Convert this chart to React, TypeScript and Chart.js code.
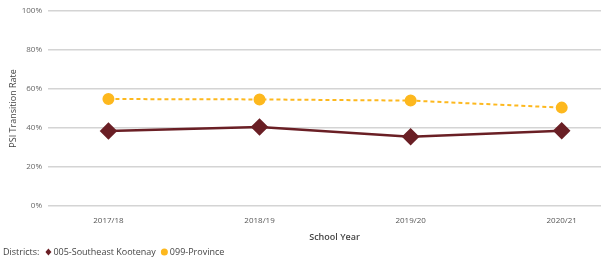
import React, { useEffect, useRef } from "react";
import { Chart, registerables } from "chart.js";

Chart.register(...registerables);

const categories = ["2017/18", "2018/19", "2019/20", "2020/21"];
const kootenay = [38.4, 40.5, 35.5, 38.6];
const province = [54.8, 54.6, 54.0, 50.4];
const yTicks = [0, 20, 40, 60, 80, 100];
const seriesLabels = ["005-Southeast Kootenay", "099-Province"];
const legendTitle = "Districts:";
const xTitle = "School Year";
const yTitle = "PSI Transition Rate";

const MAROON = "#6a1f25";
const GOLD = "#fdb81e";
const FONT = "'Open Sans', 'Noto Sans', sans-serif";

const legendPlugin = {
  id: "customLegend",
  afterDraw(chart: any) {
    const ctx = chart.ctx;
    ctx.save();
    // x-axis title, slightly right of the plot centre as in the original
    ctx.font = `600 9px ${FONT}`;
    ctx.fillStyle = "#444";
    ctx.textAlign = "center";
    ctx.textBaseline = "middle";
    ctx.fillText(xTitle, chart.chartArea.left + (chart.chartArea.right - chart.chartArea.left) / 2 + 10, 237);

    ctx.textAlign = "left";
    ctx.font = `9px ${FONT}`;
    const y = 252;
    let x = 3;
    ctx.fillText(legendTitle, x, y);
    x += ctx.measureText(legendTitle).width + 6;
    chart.data.datasets.forEach((ds: any) => {
      ctx.fillStyle = ds.pointBackgroundColor;
      if (ds.pointStyle === "rectRot") {
        ctx.beginPath();
        ctx.moveTo(x + 3, y - 3.5);
        ctx.lineTo(x + 6, y);
        ctx.lineTo(x + 3, y + 3.5);
        ctx.lineTo(x, y);
        ctx.closePath();
        ctx.fill();
        x += 8;
      } else {
        ctx.beginPath();
        ctx.arc(x + 3.5, y, 3.5, 0, Math.PI * 2);
        ctx.fill();
        x += 9;
      }
      ctx.fillStyle = "#444";
      ctx.fillText(ds.label, x, y);
      x += ctx.measureText(ds.label).width + 5;
    });
    ctx.restore();
  },
};

export default function App() {
  const ref = useRef<HTMLCanvasElement | null>(null);
  useEffect(() => {
    document.body.style.margin = "0";
    const canvas = ref.current!;
    const chart = new Chart(canvas, {
      type: "line",
      data: {
        datasets: [
          {
            label: seriesLabels[0],
            data: kootenay.map((v, i) => ({ x: i, y: v })),
            borderColor: MAROON,
            backgroundColor: MAROON,
            pointBackgroundColor: MAROON,
            pointBorderColor: MAROON,
            pointStyle: "rectRot",
            pointRadius: 7,
            borderWidth: 2.5,
            tension: 0,
            clip: false,
          },
          {
            label: seriesLabels[1],
            data: province.map((v, i) => ({ x: i, y: v })),
            borderColor: GOLD,
            backgroundColor: GOLD,
            pointBackgroundColor: GOLD,
            pointBorderColor: GOLD,
            pointStyle: "circle",
            pointRadius: 5,
            borderWidth: 2,
            borderDash: [4, 3],
            tension: 0,
            clip: false,
          },
        ],
      },
      options: {
        animation: false,
        responsive: false,
        maintainAspectRatio: false,
        layout: { autoPadding: false, padding: { top: 10, right: 0, bottom: 16, left: 0 } },
        plugins: { legend: { display: false }, tooltip: { enabled: false } },
        scales: {
          x: {
            type: "linear",
            min: -0.4,
            max: 3.26,
            afterBuildTicks: (axis: any) => {
              axis.ticks = categories.map((_, i) => ({ value: i }));
            },
            afterFit: (axis: any) => {
              axis.height = 38;
              axis.paddingLeft = 0;
              axis.paddingRight = 0;
            },
            grid: { display: false, drawTicks: false },
            border: { display: false },
            ticks: {
              callback: (v: any) => categories[v] ?? "",
              font: { family: FONT, size: 8 },
              color: "#555",
              padding: 10,
              maxRotation: 0,
            },
            title: { display: false },
          },
          y: {
            min: 0,
            max: 100,
            afterBuildTicks: (axis: any) => {
              axis.ticks = yTicks.map((v) => ({ value: v }));
            },
            afterFit: (axis: any) => {
              axis.width = 48;
            },
            grid: { color: "#d4d4d4", lineWidth: 1.5, drawTicks: false },
            border: { display: false },
            ticks: {
              callback: (v: any) => `${v}%`,
              font: { family: FONT, size: 8 },
              color: "#666",
              padding: 6,
            },
            title: {
              display: true,
              text: yTitle,
              font: { family: FONT, size: 9 },
              color: "#444",
              padding: { top: 8, bottom: 0 },
            },
          },
        },
      },
      plugins: [legendPlugin],
    } as any);
    return () => chart.destroy();
  }, []);
  return <canvas ref={ref} width={601} height={260} style={{ display: "block" }} />;
}
